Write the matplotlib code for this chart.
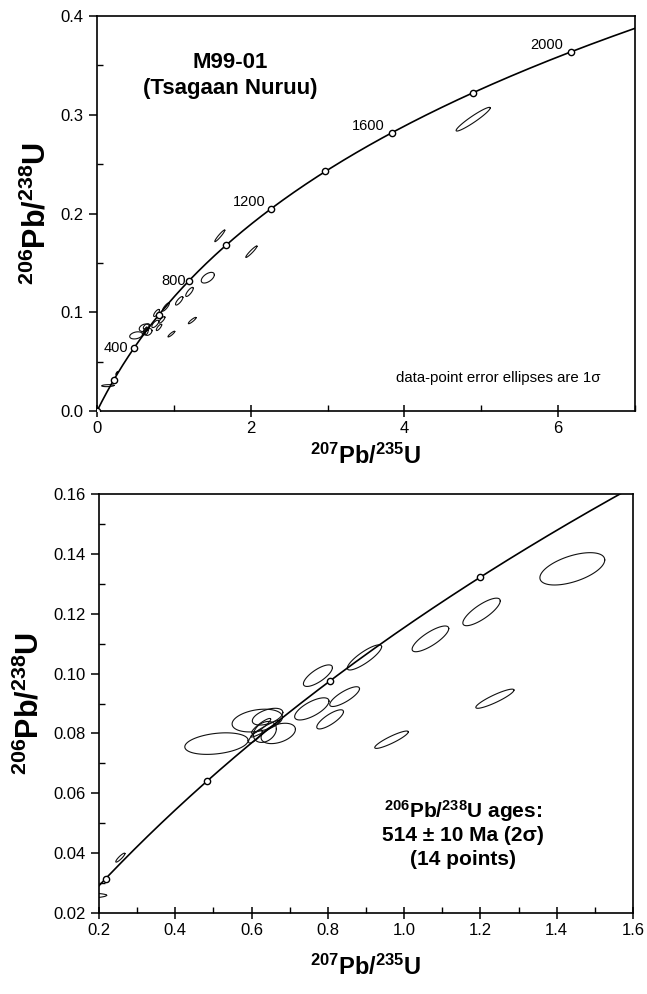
"""
Concordia diagrams for sample M99-01 (Tsagaan Nuruu): full view and zoom.
Writes out.png.
"""

import numpy as np
import matplotlib
matplotlib.use("Agg")
import matplotlib.pyplot as plt
from matplotlib.ticker import MultipleLocator, FormatStrFormatter

plt.rcParams["font.family"] = ["Liberation Sans", "DejaVu Sans"]
plt.rcParams["mathtext.fontset"] = "custom"
plt.rcParams["mathtext.rm"] = "Liberation Sans"
plt.rcParams["mathtext.bf"] = "Liberation Sans:bold"

# decay constants (1/yr) for the concordia curve
L238 = 1.55125e-10
L235 = 9.8485e-10

# age markers on the concordia (Ma) and which ones get a label (top panel)
MARK_AGES = [0, 200, 400, 600, 800, 1000, 1200, 1400, 1600, 1800, 2000]
LABEL_AGES = [400, 800, 1200, 1600, 2000]
LABEL_OFFS = [(-4, 0), (-2.5, 0), (-4, 5), (-5, 5), (-6, 5)]

# error ellipses: centre (207/235, 206/238), 1 sigma errors, correlation
ELL_X = [0.508, 0.615, 0.642, 0.670, 0.635, 0.636, 0.610, 0.625, 0.758, 0.806,
         0.774, 0.844, 0.896, 1.069, 1.203, 1.441, 1.238, 0.967, 0.256, 0.140,
         1.597, 2.008, 4.894]
ELL_Y = [0.0766, 0.0843, 0.0856, 0.0800, 0.0805, 0.0816, 0.0790, 0.0825, 0.0882,
         0.0847, 0.0993, 0.0923, 0.1054, 0.1116, 0.1206, 0.1350, 0.0916, 0.0779,
         0.0385, 0.0257, 0.1774, 0.1613, 0.2955]
ELL_SX = [0.083, 0.066, 0.040, 0.045, 0.030, 0.038, 0.018, 0.025, 0.045, 0.035,
          0.038, 0.039, 0.045, 0.048, 0.049, 0.085, 0.050, 0.044, 0.012, 0.080,
          0.065, 0.073, 0.222]
ELL_SY = [0.0036, 0.0038, 0.0028, 0.0034, 0.0035, 0.0028, 0.0022, 0.0025, 0.0037,
          0.0032, 0.0036, 0.0033, 0.0042, 0.0043, 0.0046, 0.0054, 0.0032, 0.0029,
          0.0015, 0.0010, 0.0059, 0.0058, 0.0120]
ELL_RHO = [0.3, 0.3, 0.5, 0.4, 0.3, 0.95, 0.8, 0.9, 0.7, 0.8,
           0.75, 0.8, 0.85, 0.8, 0.8, 0.55, 0.9, 0.9, 0.9, 0.2,
           0.95, 0.95, 0.95]

YLABEL = r"$\mathbf{{}^{206}Pb/{}^{238}U}$"
XLABEL = r"$\mathbf{{}^{207}Pb/{}^{235}U}$"


def concordia(age_ma):
    t = np.asarray(age_ma, dtype=float) * 1e6
    return np.exp(L235 * t) - 1, np.exp(L238 * t) - 1


def ellipse(cx, cy, sx, sy, r, n=120):
    t = np.linspace(0, 2 * np.pi, n)
    return cx + sx * np.cos(t), cy + sy * (r * np.cos(t) + np.sqrt(1 - r * r) * np.sin(t))


def draw(ax):
    cx, cy = concordia(np.linspace(0, 2300, 600))
    ax.plot(cx, cy, color="black", lw=1.2, zorder=3)
    mx, my = concordia(MARK_AGES)
    ax.plot(mx, my, "o", ms=4.5, mfc="white", mec="black", mew=1.0, zorder=4)
    for x, y, sx, sy, r in zip(ELL_X, ELL_Y, ELL_SX, ELL_SY, ELL_RHO):
        ex, ey = ellipse(x, y, sx, sy, r)
        ax.plot(ex, ey, color="#111111", lw=0.8, zorder=2)
    for sp in ax.spines.values():
        sp.set_linewidth(1.2)
    ax.tick_params(which="major", direction="inout", length=8, width=1.1, labelsize=12)
    ax.tick_params(which="minor", direction="in", length=4, width=1.0)
    ax.tick_params(axis="y", which="major", direction="out", length=6)


fig = plt.figure(figsize=(6.47, 9.94), dpi=100)

# ---- top: full concordia
ax1 = fig.add_axes([0.150, 0.5865, 0.8315, 0.3974])
draw(ax1)
ax1.set_xlim(0, 7)
ax1.set_ylim(0, 0.4)
ax1.xaxis.set_major_locator(MultipleLocator(2))
ax1.xaxis.set_minor_locator(MultipleLocator(1))
ax1.yaxis.set_major_locator(MultipleLocator(0.1))
ax1.yaxis.set_minor_locator(MultipleLocator(0.05))
ax1.yaxis.set_major_formatter(FormatStrFormatter("%.1f"))
ax1.set_xlabel(XLABEL, fontsize=17, labelpad=5)
ax1.set_ylabel(YLABEL, fontsize=22, labelpad=6)
lx, ly = concordia(LABEL_AGES)
for a, x, y, off in zip(LABEL_AGES, lx, ly, LABEL_OFFS):
    ax1.annotate(str(a), (x, y), xytext=off, textcoords="offset points",
                 ha="right", va="center", fontsize=10.5)
ax1.text(1.73, 0.353, "M99-01", ha="center", va="center", fontsize=16, fontweight="bold")
ax1.text(1.73, 0.327, "(Tsagaan Nuruu)", ha="center", va="center", fontsize=16,
         fontweight="bold")
ax1.text(6.55, 0.0334, "data-point error ellipses are 1σ", ha="right", va="center",
         fontsize=10.8)

# ---- bottom: zoom on the cluster
ax2 = fig.add_axes([0.153, 0.0815, 0.8253, 0.4215])
draw(ax2)
ax2.set_xlim(0.2, 1.6)
ax2.set_ylim(0.02, 0.16)
ax2.xaxis.set_major_locator(MultipleLocator(0.2))
ax2.xaxis.set_minor_locator(MultipleLocator(0.1))
ax2.yaxis.set_major_locator(MultipleLocator(0.02))
ax2.yaxis.set_minor_locator(MultipleLocator(0.01))
ax2.xaxis.set_major_formatter(FormatStrFormatter("%.1f"))
ax2.yaxis.set_major_formatter(FormatStrFormatter("%.2f"))
ax2.set_xlabel(XLABEL, fontsize=17, labelpad=12)
ax2.set_ylabel(YLABEL, fontsize=22, labelpad=6)
ax2.text(1.154, 0.0540, r"$\mathbf{{}^{206}Pb/{}^{238}U}$ ages:", ha="center",
         va="center", fontsize=15, fontweight="bold")
ax2.text(1.154, 0.0458, "514 ± 10 Ma (2σ)", ha="center", va="center", fontsize=15,
         fontweight="bold")
ax2.text(1.154, 0.0378, "(14 points)", ha="center", va="center", fontsize=15,
         fontweight="bold")

fig.savefig("out.png", dpi=100)
